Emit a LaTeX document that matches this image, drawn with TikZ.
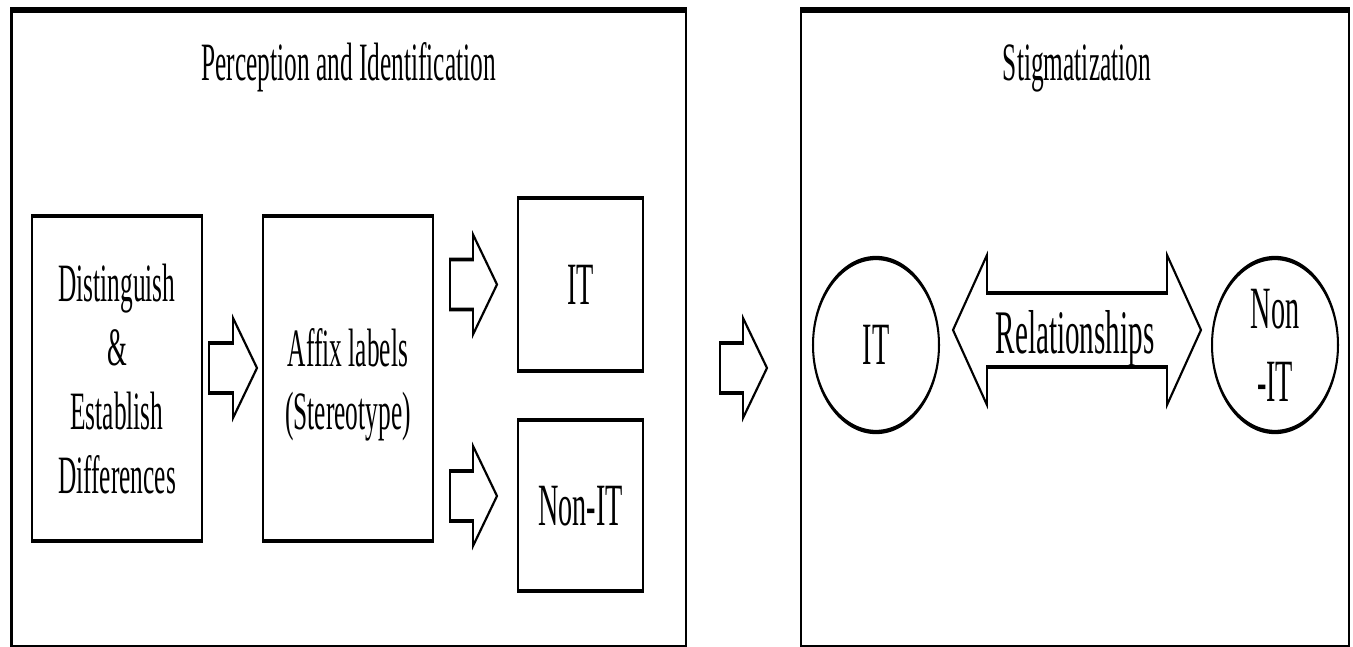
\documentclass[tikz,border=0pt]{standalone}
\usepackage{fontspec}
\setmainfont{Liberation Serif}
\usetikzlibrary{shapes.geometric,calc}

% font size / leading shortcut
\newcommand\setfs[2]{\fontsize{#1}{#2}\selectfont}

\begin{document}
\begin{tikzpicture}[x=1pt,y=-1pt]
\useasboundingbox (0,0) rectangle (1353,647);
\fill[white] (0,0) rectangle (1353,647);

% Everything is drawn on a horizontally condensed canvas (narrow type, thin verticals)
\begin{scope}[transform canvas={xscale=0.47}, x=2.12766pt, y=-1pt,
  panel/.style={draw, line width=5.4pt, rectangle, inner sep=0pt, outer sep=0pt},
  box/.style={draw, line width=4.4pt, rectangle, inner sep=0pt, outer sep=0pt,
              align=center, text depth=0pt},
  oval/.style={draw, line width=4.3pt, ellipse, inner sep=0pt, outer sep=0pt, align=center},
  title/.style={anchor=base, font=\setfs{54}{64}},
  barrow/.style={draw, line width=3.6pt, fill=white, line join=miter},
  fat arrow/.style n args={3}{to path={
    let \p1=(\tikztostart), \p2=(\tikztotarget) in
    (\x1,{\y1+#2}) -- ({\x2-#1},{\y1+#2}) -- ({\x2-#1},{\y1+#3}) -- (\x2,\y1)
    -- ({\x2-#1},{\y1-#3}) -- ({\x2-#1},{\y1-#2}) -- (\x1,{\y1-#2}) -- cycle}},
  twin arrow/.style n args={3}{to path={
    let \p1=(\tikztostart), \p2=(\tikztotarget) in
    (\x1,\y1) -- ({\x1+#1},{\y1+#3}) -- ({\x1+#1},{\y1+#2}) -- ({\x2-#1},{\y1+#2})
    -- ({\x2-#1},{\y1+#3}) -- (\x2,\y1) -- ({\x2-#1},{\y1-#3}) -- ({\x2-#1},{\y1-#2})
    -- ({\x1+#1},{\y1-#2}) -- ({\x1+#1},{\y1-#3}) -- cycle}}
]

% the two panels
\node[panel, minimum width=1435.11pt, minimum height=637.5pt] (lp) at (348.75,328.75) {};
\node[panel, minimum width=1165.96pt, minimum height=637.5pt] (rp) at (1075,328.75) {};

\node[title] (t1) at (348.5,81) {Perception and Identification};
\node[title] (t2) at (1077,81) {Stigmatization};

% left panel boxes
\node[box, minimum width=361.70pt, minimum height=325pt, font=\setfs{54}{64}]
  (dist) at (117,378.5) {Distinguish\\\&\\Establish\\Differences};
\node[box, minimum width=361.70pt, minimum height=325pt, font=\setfs{54}{63}]
  (affix) at (348,378.5) {Affix labels\\(Stereotype)};
\node[box, minimum width=265.96pt, minimum height=173pt, font=\setfs{60}{72}]
  (itbox) at (580.5,284.5) {IT};
\node[box, minimum width=265.96pt, minimum height=171pt, font=\setfs{60}{72}]
  (nonitbox) at (580.5,505.5) {Non-IT};

% block arrows
\draw[barrow] ($(dist.east)+(7,-10.5)$) to[fat arrow={51.06pt}{25pt}{50pt}] ($(affix.west)+(-6,-10.5)$);
\draw[barrow] ($(affix.east |- itbox.west)+(17,0)$) to[fat arrow={51.06pt}{25pt}{50pt}] ($(itbox.west)+(-21,0)$);
\draw[barrow] ($(affix.east |- nonitbox.west)+(17,-9.5)$) to[fat arrow={51.06pt}{25pt}{50pt}] ($(nonitbox.west)+(-21,-9.5)$);
\draw[barrow] ($(lp.east)+(34,39.25)$) to[fat arrow={51.06pt}{25pt}{50pt}] ($(rp.west)+(-34,39.25)$);

% right panel
\node[oval, minimum width=268.09pt, minimum height=174pt, font=\setfs{60}{72}]
  (itc) at (876,345) {IT};
\node[oval, minimum width=268.09pt, minimum height=174pt, font=\setfs{60}{73}]
  (nonitc) at (1275,345) {Non\\-IT};

\draw[barrow] ($(itc.east)+(14,-15)$) to[twin arrow={72.34pt}{37pt}{75pt}] ($(nonitc.west)+(-11,-15)$);
\node[anchor=base, font=\setfs{62}{72}] (rel) at (1075,353) {Relationships};
\end{scope}
\end{tikzpicture}
\end{document}
